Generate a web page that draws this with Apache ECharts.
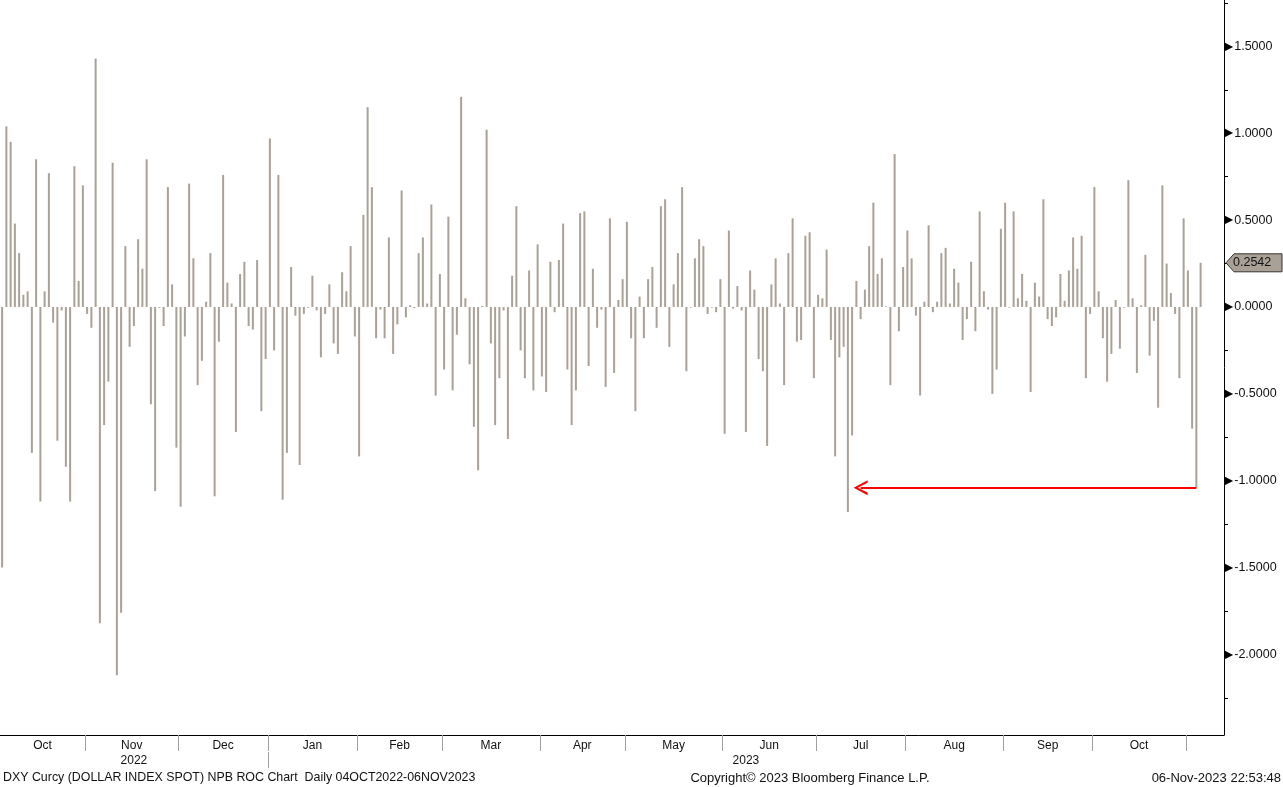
<!DOCTYPE html>
<html><head><meta charset="utf-8">
<script src="https://cdn.jsdelivr.net/npm/echarts@6/dist/echarts.min.js"></script>
<style>html,body{margin:0;padding:0;background:#fff}#c{width:1283px;height:787px}</style>
</head><body><div id="c"></div>
<script>
// ---- data ----
const values = [
 -1.50, 1.04, 0.95, 0.48, 0.31, 0.07, 0.09, -0.84, 0.85, -1.12,
 0.09, 0.77, -0.09, -0.77, -0.02, -0.92, -1.12, 0.81, 0.15, 0.70,
 -0.04, -0.12, 1.43, -1.82, -0.68, -0.43, 0.83, -2.12, -1.76, 0.35,
 -0.23, -0.11, 0.39, 0.22, 0.85, -0.56, -1.06, -0.005, -0.11, 0.69,
 0.13, -0.81, -1.15, -0.17, 0.71, 0.28, -0.45, -0.31, 0.03, 0.31,
 -1.09, -0.20, 0.76, 0.14, 0.02, -0.72, 0.19, 0.26, -0.11, -0.13,
 0.27, -0.60, -0.30, 0.97, -0.25, 0.76, -1.11, -0.84, 0.23, -0.05,
 -0.91, -0.04, -0.005, 0.18, -0.02, -0.29, -0.04, 0.13, -0.21, -0.27,
 0.20, 0.09, 0.35, -0.17, -0.86, 0.53, 1.15, 0.69, -0.18, -0.015,
 -0.18, 0.40, -0.27, -0.10, 0.67, -0.06, 0.01, -0.006, 0.31, 0.40,
 0.02, 0.59, -0.51, 0.19, -0.36, 0.52, -0.48, -0.16, 1.21, 0.05,
 -0.33, -0.69, -0.94, 0.006, 1.02, -0.21, -0.68, -0.41, -0.02, -0.76,
 0.18, 0.58, -0.25, -0.41, 0.21, -0.48, 0.36, -0.40, -0.49, 0.26,
 -0.03, 0.27, 0.48, -0.36, -0.68, -0.48, 0.54, 0.55, -0.34, 0.22,
 -0.12, -0.015, -0.46, 0.51, -0.38, 0.04, 0.16, 0.49, -0.18, -0.60,
 0.06, -0.18, 0.16, 0.23, -0.12, 0.58, 0.62, -0.23, 0.13, 0.31,
 0.69, -0.37, -0.004, 0.28, 0.39, 0.35, -0.04, -0.004, -0.03, 0.16,
 -0.73, 0.44, -0.01, 0.12, -0.02, -0.72, 0.21, 0.10, -0.30, -0.37,
 -0.80, 0.13, 0.28, 0.02, -0.45, 0.31, 0.51, -0.20, -0.19, 0.41,
 0.43, -0.41, 0.07, 0.05, 0.33, -0.19, -0.86, -0.29, -0.23, -1.18,
 -0.74, 0.15, -0.07, 0.10, 0.35, 0.60, 0.19, 0.28, 0.004, -0.45,
 0.88, -0.14, 0.23, 0.44, 0.28, -0.05, -0.51, 0.03, 0.47, -0.03,
 0.03, 0.31, 0.34, 0.02, 0.22, 0.14, -0.19, -0.07, 0.26, -0.14,
 0.55, 0.09, -0.015, -0.50, -0.36, 0.45, 0.60, -0.004, 0.55, 0.05,
 0.19, 0.035, -0.49, 0.14, 0.06, 0.62, -0.07, -0.11, -0.06, 0.19,
 0.035, 0.21, 0.40, 0.22, 0.41, -0.41, -0.04, 0.69, 0.09, -0.18,
 -0.43, -0.27, 0.04, -0.24, -0.004, 0.73, 0.05, -0.38, 0.01, 0.30,
 -0.28, -0.08, -0.58, 0.70, 0.25, 0.08, -0.04, -0.41, 0.51, 0.21,
 -0.70, -1.04, 0.2542
];
const startDate = '2022-10-04';
const skippedDays = ['2022-12-26', '2023-01-02'];
const padDays = 5;
const monthNames = ['Jan','Feb','Mar','Apr','May','Jun','Jul','Aug','Sep','Oct','Nov','Dec'];
const yLabelValues = [-2, -1.5, -1, -0.5, 0, 0.5, 1, 1.5];
const yMinorTickValues = [-2.25, -1.75, -1.25, -0.75, -0.25, 0.25, 0.75, 1.25, 1.75];
const arrowLevel = -1.04;
const arrowFromIndex = 202;
const arrowToIndex = 281;
const footerLeft = 'DXY Curcy (DOLLAR INDEX SPOT) NPB ROC Chart  Daily 04OCT2022-06NOV2023';
const footerCenter = 'Copyright\u00A9 2023 Bloomberg Finance L.P.';
const footerRight = '06-Nov-2023 22:53:48';

// ---- categories (weekday dates) ----
const categories = [];
{
  const d = new Date(startDate + 'T00:00:00Z');
  while (categories.length < values.length + padDays) {
    const wd = d.getUTCDay();
    const s = d.toISOString().slice(0, 10);
    if (wd !== 0 && wd !== 6 && skippedDays.indexOf(s) < 0) categories.push(s);
    d.setUTCDate(d.getUTCDate() + 1);
  }
}
const N = categories.length;
const months = [];
categories.forEach((c, i) => {
  const key = c.slice(0, 7);
  if (!months.length || months[months.length - 1].key !== key) months.push({ key, first: i, last: i });
  else months[months.length - 1].last = i;
});
const monthLabelPos = {}, monthBoundaries = [];
months.forEach((m, k) => {
  if (k > 0) monthBoundaries.push(m.first - 0.5);
  if (k < months.length - 1) monthLabelPos[((m.first + m.last) / 2).toFixed(2)] = monthNames[+m.key.slice(5, 7) - 1];
});
const years = [];
categories.forEach((c, i) => {
  const y = c.slice(0, 4);
  if (!years.length || years[years.length - 1].y !== y) years.push({ y, first: i, last: i });
  else years[years.length - 1].last = i;
});
const yearLabelPos = {}, yearBoundaries = [];
years.forEach((y, k) => {
  const lo = y.first - 0.5, hi = (k === years.length - 1) ? N - 0.5 : y.last + 0.5;
  if (k > 0) yearBoundaries.push(lo);
  yearLabelPos[((lo + hi) / 2).toFixed(2)] = y.y;
});

const barColor = '#aaa196';
const font = 'Liberation Sans';
const chart = echarts.init(document.getElementById('c'), null, { renderer: 'canvas' });
const option = {
  animation: false,
  backgroundColor: '#fff',
  grid: { left: 0, right: 59, top: 0, bottom: 52, containLabel: false },
  xAxis: [
    { type: 'category', data: categories, boundaryGap: true, gridIndex: 0, position: 'bottom',
      axisLine: { show: true, onZero: false, lineStyle: { color: '#000', width: 1 } },
      axisTick: { show: false }, axisLabel: { show: false }, splitLine: { show: false } },
    { type: 'value', min: -0.5, max: N - 0.5, position: 'bottom', gridIndex: 0,
      axisLine: { show: false, onZero: false }, splitLine: { show: false },
      axisTick: { show: true, customValues: monthBoundaries, length: 16, lineStyle: { color: '#a0a0a0' } },
      axisLabel: { show: true, customValues: Object.keys(monthLabelPos).map(Number), margin: 5,
        formatter: v => monthLabelPos[v.toFixed(2)] || '', color: '#111', fontSize: 12, fontFamily: font } },
    { type: 'value', min: -0.5, max: N - 0.5, position: 'bottom', offset: 17, gridIndex: 0,
      axisLine: { show: false, onZero: false }, splitLine: { show: false },
      axisTick: { show: true, customValues: yearBoundaries, length: 16, lineStyle: { color: '#a0a0a0' } },
      axisLabel: { show: true, customValues: Object.keys(yearLabelPos).map(Number), margin: 3,
        formatter: v => yearLabelPos[v.toFixed(2)] || '', color: '#111', fontSize: 12, fontFamily: font } }
  ],
  yAxis: [{
    type: 'value', position: 'right', min: -2.464, max: 1.767,
    axisLine: { show: true, onZero: false, lineStyle: { color: '#000', width: 1 } },
    splitLine: { show: false },
    axisTick: { show: true, inside: false, customValues: yMinorTickValues, length: 4, lineStyle: { color: '#000' } },
    axisLabel: { show: true, customValues: yLabelValues, margin: 0, align: 'left',
      formatter: v => '{a|\u25B6}{b|' + v.toFixed(4) + '}',
      rich: { a: { fontSize: 12, color: '#000', padding: [0, 1, 0, 0], fontFamily: 'DejaVu Sans' },
              b: { fontSize: 12.5, color: '#111', fontFamily: font } } }
  }],
  series: [{
    type: 'bar', xAxisIndex: 0, yAxisIndex: 0, data: values, barWidth: 2,
    itemStyle: { color: barColor }, silent: true,
    markLine: {
      silent: true, animation: false,
      symbol: ['path://M50,0 L100,100 L82,100 L50,30 L18,100 L0,100 Z', 'none'],
      symbolSize: [15, 14],
      lineStyle: { color: '#ff0000', width: 2, type: 'solid' },
      label: { show: false },
      data: [[{ coord: [arrowFromIndex, arrowLevel] }, { coord: [arrowToIndex, arrowLevel] }]]
    }
  }]
};
chart.setOption(option);

const lastVal = values[values.length - 1];
const py = chart.convertToPixel({ yAxisIndex: 0 }, lastVal);
const axisX = 1224;
chart.setOption({
  graphic: [
    { type: 'polygon', shape: { points: [[axisX + 2, py], [axisX + 10, py - 9], [1282, py - 9], [1282, py + 9], [axisX + 10, py + 9]] },
      style: { fill: barColor, stroke: '#333', lineWidth: 1 }, z: 10 },
    { type: 'text', x: axisX + 9, y: py, style: { text: lastVal.toFixed(4), font: '12.5px "' + font + '"', fill: '#111', textVerticalAlign: 'middle' }, z: 11 },
    { type: 'text', x: 3, y: 778, style: { text: footerLeft, font: '12.4px "' + font + '"', fill: '#111', textVerticalAlign: 'middle' } },
    { type: 'text', x: 810, y: 778, style: { text: footerCenter, font: '13px "' + font + '"', fill: '#111', textAlign: 'center', textVerticalAlign: 'middle' } },
    { type: 'text', x: 1281, y: 778, style: { text: footerRight, font: '13px "' + font + '"', fill: '#111', textAlign: 'right', textVerticalAlign: 'middle' } }
  ]
});
</script></body></html>
